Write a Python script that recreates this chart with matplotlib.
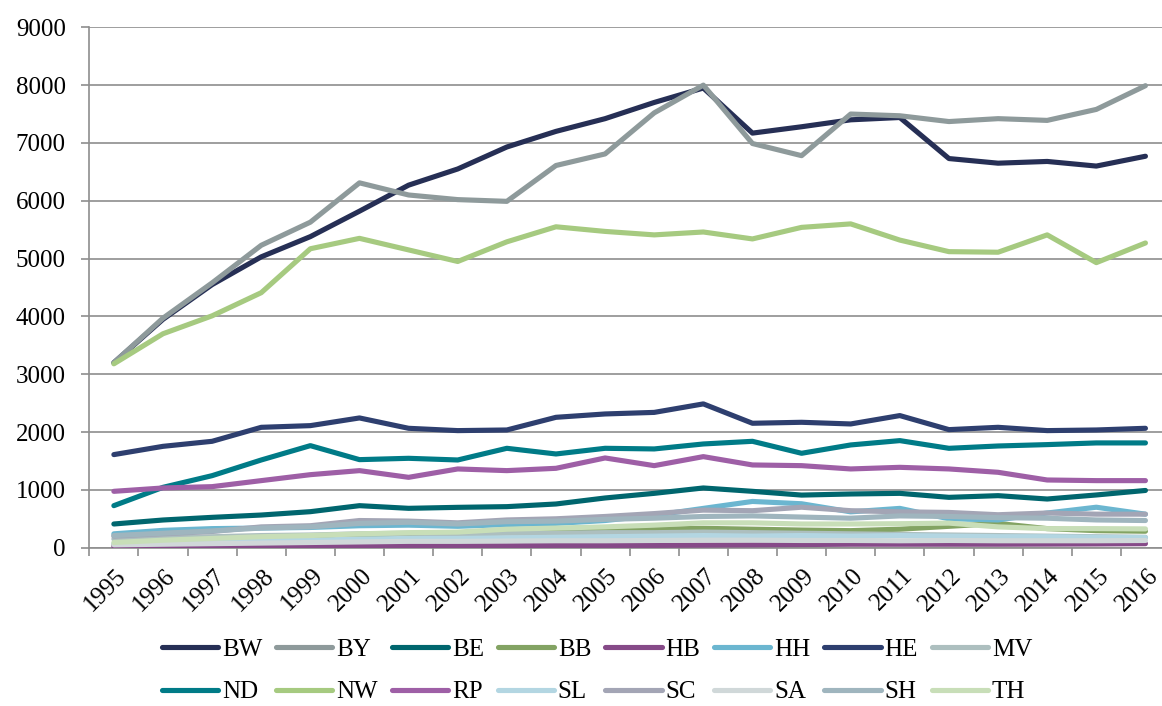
import numpy as np
import matplotlib.pyplot as plt
import matplotlib.transforms as mtransforms

plt.rcParams['font.family'] = ['Liberation Serif', 'DejaVu Serif']

# Jahre und Werte je Bundesland
years = [str(y) for y in range(1995, 2017)]

BW = [3200, 3950, 4550, 5030, 5380, 5820, 6270, 6550, 6930, 7200, 7420,
      7700, 7950, 7170, 7280, 7400, 7440, 6730, 6650, 6680, 6600, 6770]
BY = [3200, 3970, 4580, 5230, 5630, 6310, 6100, 6020, 5990, 6610, 6810,
      7520, 8000, 6990, 6780, 7500, 7470, 7370, 7420, 7390, 7580, 7990]
BE = [410, 479, 525, 565, 623, 727, 681, 698, 710, 756, 860,
      940, 1033, 975, 910, 929, 940, 871, 900, 842, 912, 990]
BB = [50, 80, 110, 140, 170, 200, 220, 240, 265, 280, 300,
      320, 335, 320, 305, 295, 320, 370, 420, 330, 295, 285]
HB = [20, 25, 25, 30, 30, 35, 35, 35, 35, 40, 40,
      40, 45, 50, 55, 60, 60, 60, 60, 62, 65, 70]
HH = [240, 300, 330, 340, 350, 380, 390, 370, 400, 420, 470,
      560, 680, 800, 760, 620, 680, 500, 480, 600, 700, 580]
HE = [1610, 1753, 1840, 2082, 2111, 2244, 2065, 2025, 2036, 2255, 2313,
      2340, 2487, 2152, 2169, 2140, 2285, 2042, 2082, 2025, 2036, 2065]
MV = [150, 170, 190, 210, 220, 240, 250, 240, 250, 250, 260,
      260, 270, 260, 250, 240, 230, 220, 210, 200, 190, 180]
ND = [727, 1044, 1246, 1517, 1765, 1523, 1546, 1517, 1719, 1621, 1719,
      1708, 1794, 1840, 1633, 1777, 1852, 1719, 1759, 1783, 1812, 1812]
NW = [3180, 3700, 4010, 4410, 5170, 5350, 5150, 4950, 5290, 5550, 5470,
      5410, 5460, 5340, 5540, 5600, 5320, 5120, 5110, 5410, 4930, 5270]
RP = [975, 1033, 1056, 1160, 1263, 1333, 1217, 1362, 1333, 1373, 1552,
      1419, 1575, 1431, 1419, 1362, 1390, 1362, 1304, 1171, 1160, 1160]
SL = [70, 90, 110, 120, 130, 150, 160, 160, 170, 180, 190,
      200, 210, 200, 210, 200, 210, 200, 190, 190, 180, 175]
SC = [200, 240, 280, 360, 380, 470, 460, 430, 480, 500, 540,
      590, 650, 640, 700, 640, 620, 610, 570, 600, 580, 580]
SA = [50, 60, 70, 80, 90, 100, 110, 110, 115, 120, 120,
      125, 130, 130, 125, 125, 120, 125, 120, 120, 120, 125]
SH = [210, 250, 290, 340, 360, 420, 440, 410, 450, 460, 490,
      510, 540, 550, 530, 510, 550, 540, 520, 510, 480, 470]
TH = [90, 130, 160, 190, 210, 240, 260, 270, 320, 340, 360,
      390, 430, 430, 410, 410, 415, 425, 360, 330, 330, 325]

series = [
    ("BW", BW, "#262F55"), ("BY", BY, "#8E9A9B"), ("BE", BE, "#00666E"),
    ("BB", BB, "#83A363"), ("HB", HB, "#864A88"), ("HH", HH, "#6BB6D0"),
    ("HE", HE, "#2E3F6F"), ("MV", MV, "#ADBFBF"), ("ND", ND, "#007B87"),
    ("NW", NW, "#A6CA80"), ("RP", RP, "#9E5FA6"), ("SL", SL, "#B3D6E2"),
    ("SC", SC, "#A3A5B5"), ("SA", SA, "#D0D8D9"), ("SH", SH, "#9FB5BE"),
    ("TH", TH, "#C8DEB8"),
]

fig = plt.figure(figsize=(11.62, 7.06), dpi=100)
ax = fig.add_axes([89.3 / 1162, 1 - 547.7 / 706, (1170 - 89.3) / 1162, (547.7 - 27.3) / 706])

x = np.arange(len(years))
handles = []
for i, (name, vals, col) in enumerate(series):
    h, = ax.plot(x, vals, color=col, lw=3.7, label=name, zorder=3 + i,
                 solid_capstyle='round', solid_joinstyle='round')
    handles.append(h)

ax.set_xlim(-0.5, len(years) - 0.5)
ax.set_ylim(0, 9000)
ax.set_yticks(range(0, 9001, 1000))
ax.yaxis.grid(True, color='#8E8E8E', lw=1.2)
ax.set_axisbelow(True)

for s in ('top', 'right'):
    ax.spines[s].set_visible(False)
for s in ('left', 'bottom'):
    ax.spines[s].set_color('#8E8E8E')
    ax.spines[s].set_linewidth(1.2)

ax.tick_params(axis='y', length=6, width=1.2, color='#8E8E8E', pad=11, labelsize=18)

# Jahreszahlen mittig, Teilstriche zwischen den Kategorien
ax.set_xticks(x)
ax.set_xticklabels(years, rotation=45, ha='right', va='top', fontsize=18)
ax.set_xticks(np.arange(-0.5, len(years), 1), minor=True)
ax.tick_params(axis='x', which='major', length=0, pad=12)
ax.tick_params(axis='x', which='minor', length=6, width=1.2, color='#8E8E8E')
offset = mtransforms.ScaledTranslation(17 / 100, 0, fig.dpi_scale_trans)
for lab in ax.get_xticklabels():
    lab.set_transform(lab.get_transform() + offset)

# Legende zeilenweise (2 Zeilen x 8 Spalten)
order = []
for k in range(8):
    order += [k, k + 8]
leg = fig.legend([handles[k] for k in order], [series[k][0] for k in order],
                 ncol=8, loc='center', bbox_to_anchor=(597 / 1162, 1 - 671 / 706),
                 frameon=False, fontsize=18, handlelength=2.25, handletextpad=0.15,
                 columnspacing=0.56, labelspacing=0.8, borderpad=0.2)

fig.savefig('out.png', dpi=100)
